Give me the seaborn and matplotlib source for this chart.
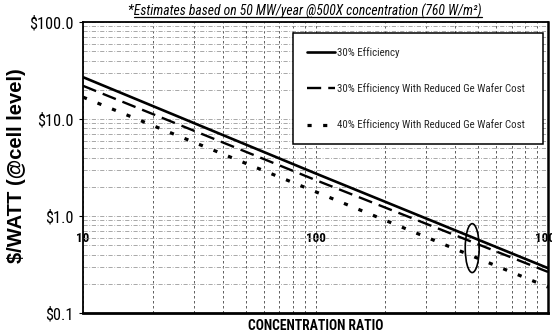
import matplotlib
matplotlib.use("Agg")
import matplotlib.pyplot as plt
from matplotlib import font_manager as fm
from matplotlib.patches import Ellipse
from matplotlib.lines import Line2D
from matplotlib.ticker import LogLocator, NullFormatter
import numpy as np
import pandas as pd
import seaborn as sns

# Cost per watt versus concentration ratio
concentration = [10, 100, 1000]
cost_30 = [27.0, 2.75, 0.29]
cost_30_reduced = [22.0, 2.35, 0.265]
cost_40_reduced = [16.8, 1.78, 0.185]

series_names = [
    "30% Efficiency",
    "30% Efficiency With Reduced Ge Wafer Cost",
    "40% Efficiency With Reduced Ge Wafer Cost",
]
y_ticks = [0.1, 1.0, 10.0, 100.0]
y_tick_labels = ["$0.1", "$1.0", "$10.0", "$100.0"]
x_ticks = [10, 100, 1000]
x_tick_labels = ["10", "100", "1000"]

note = "*Estimates based on 50 MW/year @500X concentration (760 W/m\u00b2)"
y_label = "$/WATT (@cell level)"
x_label = "CONCENTRATION RATIO"

df = pd.DataFrame({
    "ratio": concentration * 3,
    "cost": cost_30 + cost_30_reduced + cost_40_reduced,
    "series": [series_names[0]] * 3 + [series_names[1]] * 3 + [series_names[2]] * 3,
})


def pick_narrow_family():
    """Prefer a condensed sans face when one is installed."""
    names = {f.name for f in fm.fontManager.ttflist}
    for cand in ["Liberation Sans Narrow", "Arial Narrow", "DejaVu Sans Condensed",
                 "Roboto Condensed", "Open Sans Condensed", "Noto Sans Condensed"]:
        if cand in names:
            return cand, "normal"
    for f in fm.fontManager.ttflist:
        if f.stretch in ("condensed", "semi-condensed", "extra-condensed") or \
                (isinstance(f.stretch, int) and f.stretch < 500):
            return f.name, "condensed"
    return "Liberation Sans", "normal"


sns.set_theme(style="white")
narrow, stretch = pick_narrow_family()
plt.rcParams["font.family"] = [narrow, "Liberation Sans", "DejaVu Sans"]
plt.rcParams["font.stretch"] = stretch

W, H, DPI = 552, 333, 100
fig = plt.figure(figsize=(W / DPI, H / DPI), dpi=DPI)
renderer = fig.canvas.get_renderer()


def size_for_width(text, target_px, **kw):
    """Font size (pt) at which `text` spans about target_px pixels."""
    probe = fig.text(0, 0, text, fontsize=10, **kw)
    w = probe.get_window_extent(renderer=renderer).width
    probe.remove()
    return 10 * target_px / w


ax = fig.add_axes([83 / W, 1 - 313 / H, 465 / W, 291 / H])

dash_map = {
    series_names[0]: "",
    series_names[1]: (6, 3),
    series_names[2]: (1.3, 3.6),
}
sns.lineplot(
    data=df, x="ratio", y="cost", hue="series", style="series",
    hue_order=series_names, style_order=series_names,
    palette=["black"] * 3, dashes=dash_map, linewidth=1.7,
    legend=False, ax=ax, sort=False,
)
lines = ax.get_lines()
for ln in lines:
    ln.set_dash_capstyle("butt")
lines[0].set_linewidth(1.9)
lines[2].set_linewidth(2.3)

ax.set_xscale("log")
ax.set_yscale("log")
ax.set_xlim(10, 1000)
ax.set_ylim(0.1, 100)

# gridlines: dashed verticals, dash-dot horizontals
ax.xaxis.set_minor_locator(LogLocator(base=10, subs=np.arange(2, 10)))
ax.yaxis.set_minor_locator(LogLocator(base=10, subs=np.arange(2, 10)))
ax.xaxis.set_minor_formatter(NullFormatter())
ax.yaxis.set_minor_formatter(NullFormatter())
ax.xaxis.grid(True, which="both", color="#444444", linestyle=(0, (3, 3)), linewidth=0.6)
ax.yaxis.grid(True, which="both", color="#9a9a9a", linestyle=(0, (5, 2, 1, 2)), linewidth=0.6)

ytick_size = size_for_width("$10.0", 36)
xtick_size = size_for_width("100", 20, fontweight="bold")
ax.set_yticks(y_ticks)
ax.set_yticklabels(y_tick_labels)
ax.set_xticks(x_ticks)
ax.set_xticklabels(x_tick_labels)
ax.tick_params(axis="y", which="major", length=3, width=0.8, color="black",
               direction="out", left=True, pad=4, labelsize=ytick_size, labelcolor="black")
ax.tick_params(axis="y", which="minor", length=0)
ax.tick_params(axis="x", which="both", length=0, pad=-58, labelsize=xtick_size,
               labelcolor="black")
for lab in ax.get_xticklabels():
    lab.set_fontweight("bold")

for side, sp in ax.spines.items():
    sp.set_visible(True)
    sp.set_color("black")
    sp.set_linewidth(1.3)
ax.spines["bottom"].set_linewidth(2.0)
ax.spines["right"].set_linewidth(1.8)

ax.set_xlabel(x_label, fontsize=size_for_width(x_label, 135, fontweight="bold"),
              fontweight="bold", labelpad=4, color="black")
ax.set_ylabel("")
ylab_kw = dict(fontweight="bold", family=["Liberation Sans", "DejaVu Sans"], stretch="normal")
fig.text(17 / W, 1 - 166 / H, y_label, rotation=90, ha="center", va="center",
         fontsize=size_for_width(y_label, 195, **ylab_kw), color="black", **ylab_kw)

leg_size = size_for_width(series_names[2], 186)
leg = ax.legend(
    handles=lines[:3], labels=series_names,
    loc="upper left", bbox_to_anchor=(0.452, 0.962, 0.537, 0.0), mode="expand",
    frameon=True, fancybox=False, framealpha=1, edgecolor="black",
    fontsize=leg_size, handlelength=28 / (leg_size * DPI / 72),
    handletextpad=0.2, labelspacing=2.35, borderpad=1.25, borderaxespad=0,
)
leg.get_frame().set_linewidth(1.1)

# highlight of the 500X operating point
ax.add_patch(Ellipse((0.837, 0.223), 0.030, 0.168, transform=ax.transAxes,
                     fill=False, edgecolor="black", linewidth=1.2, zorder=5))

title = fig.text(128 / W, 1 - 11 / H, note, ha="left", va="center",
                 fontsize=size_for_width(note, 354, style="italic"),
                 style="italic", color="black")
fig.canvas.draw()
bb = title.get_window_extent()
uy = bb.y0 + 1.5
fig.add_artist(Line2D([bb.x0 + 6, bb.x1], [uy, uy], transform=None,
                      color="black", linewidth=0.9))

fig.savefig("out.png", dpi=DPI)
